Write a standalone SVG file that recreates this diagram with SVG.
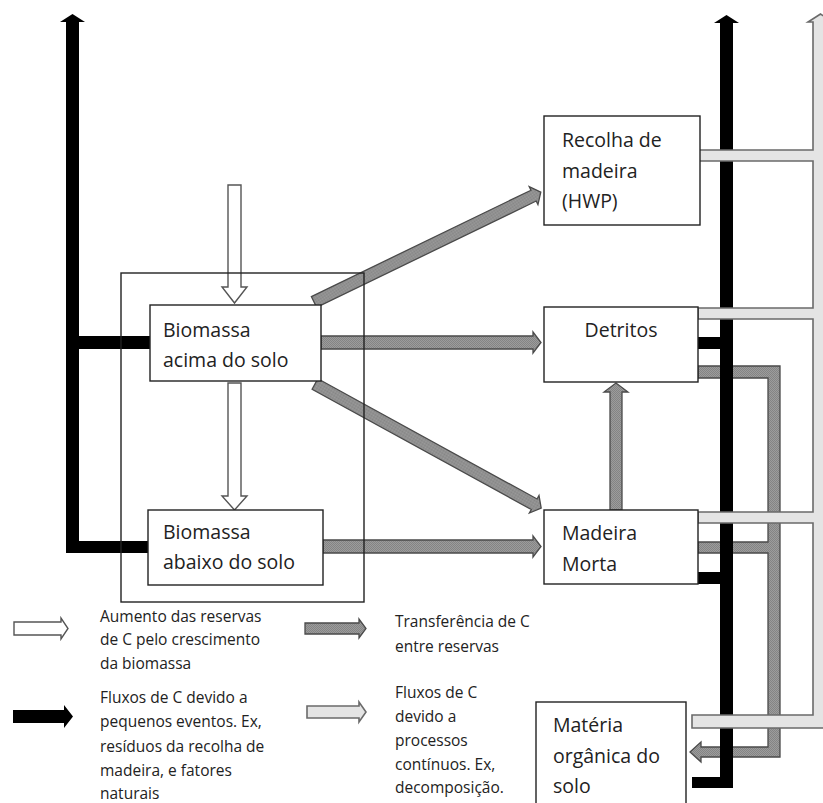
<svg xmlns="http://www.w3.org/2000/svg" width="823" height="803" viewBox="0 0 823 803">
<defs>
<pattern id="dots" patternUnits="userSpaceOnUse" width="2" height="2">
<rect width="2" height="2" fill="#9c9c9c"/>
<rect width="1" height="1" fill="#848484"/>
<rect x="1" y="1" width="1" height="1" fill="#848484"/>
</pattern>
<style>
.box{fill:#fff;stroke:#222;stroke-width:1.4}
.frame{fill:none;stroke:#222;stroke-width:1.4}
.t{font-family:"Open Sans","Noto Sans",sans-serif;font-size:19.5px;fill:#222}
.lg{font-family:"Open Sans","Noto Sans",sans-serif;font-size:15.5px;fill:#222}
.blk{fill:#000;stroke:none}
.trf{fill:url(#dots);stroke:#4a4a4a;stroke-width:1.3;stroke-linejoin:miter}
.lgt{fill:#e4e4e4;stroke:#6a6a6a;stroke-width:1.6}
.grw{fill:#fff;stroke:#555;stroke-width:1.4}
</style>
</defs>
<rect width="823" height="803" fill="#fff"/>

<g id="connectors">
<path class="blk" d="M66,553 V22 H60 L72.5,14 L85,22 H79 V336 H150 V349 H79 V541 H148 V553 Z"/>
<path class="trf" d="M698,366 H780 V757 H701 V762 L690,752 L701,742 V747 H768 V553 H698 V542 H768 V378 H698 Z"/>
<path class="blk" d="M733,788 H692 V777 H720 V584 H698 V572 H720 V349 H698 V337 H720 V23 H714 L726.5,15 L739,23 H733 Z"/>
<path class="lgt" d="M700,150 H813 V22 H808 L820.5,14 L833,22 H828 V728 H692 V715 H813 V523 H698 V512 H813 V319 H698 V308 H813 V161 H700"/>
<path class="grw" d="M228,185 H241 V287 H247 L234.5,303 L222,287 H228 Z"/>
<path class="grw" d="M228,383 H241 V496 H247 L234.5,510 L222,496 H228 Z"/>
<path class="trf" d="M321,336 H533 V332 L541,342.5 L533,353 V349 H321 Z"/>
<path class="trf" d="M323,540 H533 V536 L541,546.5 L533,557 V553 H323 Z"/>
<path class="trf" transform="translate(314,302) rotate(-25.85)" d="M0,-6 H244 V-10 L252,0 L244,10 V6 H0 Z"/>
<path class="trf" transform="translate(315,384) rotate(28.75)" d="M0,-6 H250 V-10 L258,0 L250,10 V6 H0 Z"/>
<path class="trf" d="M610,510 V392 H604 L616,383 L628,392 H622 V510 Z"/>
</g>

<rect id="frame" class="frame" x="121" y="273" width="243" height="329"/>

<g id="node-hwp">
<rect class="box" x="544" y="116" width="156" height="109"/>
<text class="t" x="562" y="147">Recolha de</text>
<text class="t" x="562" y="178">madeira</text>
<text class="t" x="562" y="208">(HWP)</text>
</g>
<g id="node-detritos">
<rect class="box" x="544" y="307" width="154" height="75"/>
<text class="t" x="621" y="337" text-anchor="middle">Detritos</text>
</g>
<g id="node-madeira-morta">
<rect class="box" x="544" y="510" width="154" height="74"/>
<text class="t" x="562" y="540">Madeira</text>
<text class="t" x="562" y="571">Morta</text>
</g>
<g id="node-materia">
<rect class="box" x="536" y="702" width="150" height="120"/>
<text class="t" x="553" y="732">Matéria</text>
<text class="t" x="553" y="763">orgânica do</text>
<text class="t" x="553" y="793">solo</text>
</g>
<g id="node-acima">
<rect class="box" x="150" y="305" width="171" height="76"/>
<text class="t" x="163" y="337">Biomassa</text>
<text class="t" x="163" y="367">acima do solo</text>
</g>
<g id="node-abaixo">
<rect class="box" x="148" y="510" width="175" height="75"/>
<text class="t" x="163" y="539">Biomassa</text>
<text class="t" x="163" y="569">abaixo do solo</text>
</g>

<g id="legend">
<path class="grw" d="M14,622 H61 V618 L68,628.5 L61,639 V635 H14 Z"/>
<text class="lg" x="100" y="622">Aumento das reservas</text>
<text class="lg" x="100" y="645">de C pelo crescimento</text>
<text class="lg" x="100" y="669">da biomassa</text>
<path class="blk" d="M13,710 H64 V705 L73,716.5 L64,728 V723 H13 Z"/>
<text class="lg" x="100" y="703">Fluxos de C devido a</text>
<text class="lg" x="100" y="727">pequenos eventos. Ex,</text>
<text class="lg" x="100" y="752">resíduos da recolha de</text>
<text class="lg" x="100" y="776">madeira, e fatores</text>
<text class="lg" x="100" y="799">naturais</text>
<path class="trf" d="M305,623 H359 V619 L366,628.5 L359,638 V634 H305 Z"/>
<text class="lg" x="395" y="627">Transferência de C</text>
<text class="lg" x="395" y="652">entre reservas</text>
<path class="lgt" d="M307,706 H359 V702 L366,712 L359,722 V718 H307 Z"/>
<text class="lg" x="395" y="698">Fluxos de C</text>
<text class="lg" x="395" y="722">devido a</text>
<text class="lg" x="395" y="746">processos</text>
<text class="lg" x="395" y="770">contínuos. Ex,</text>
<text class="lg" x="395" y="793">decomposição.</text>
</g>
</svg>
